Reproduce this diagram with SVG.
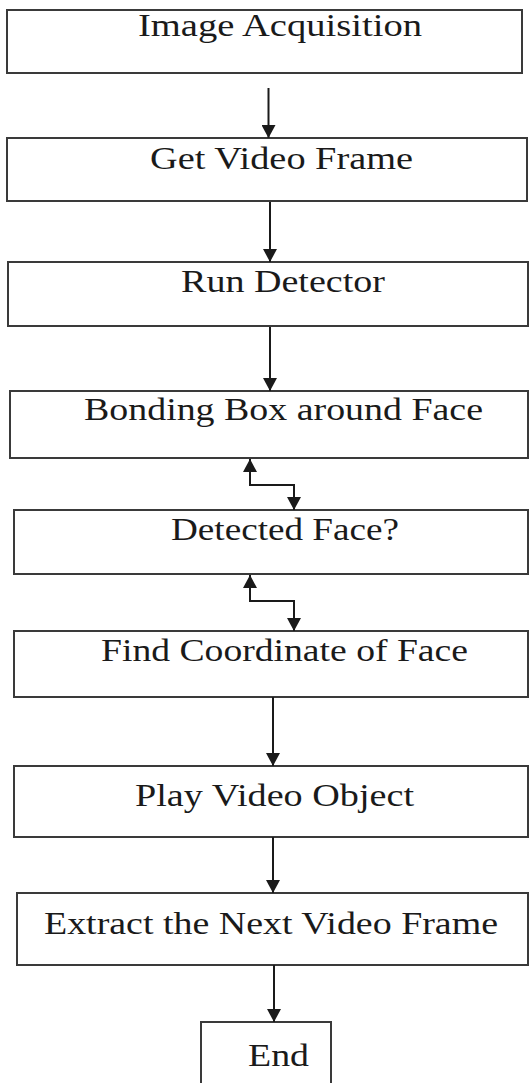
<svg xmlns="http://www.w3.org/2000/svg" width="530" height="1083" viewBox="0 0 530 1083">
  <style>
    .box { fill: #ffffff; stroke: #3a3a3a; stroke-width: 2; }
    .lbl { font-family: "Liberation Serif", "Times New Roman", serif; font-size: 31px; fill: #1a1a1a; }
    .wire { fill: none; stroke: #1a1a1a; stroke-width: 2; }
  </style>
  <defs>
    <marker id="arrow" viewBox="0 0 13 14" refX="13" refY="7" markerWidth="13" markerHeight="14" markerUnits="userSpaceOnUse" orient="auto-start-reverse">
      <path d="M0,0 L13,7 L0,14 Z" fill="#1a1a1a"/>
    </marker>
  </defs>
  <rect width="530" height="1083" fill="#ffffff"/>

  <g id="node-acquisition">
    <rect class="box" x="7" y="10" width="515" height="63"/>
    <text class="lbl" x="138" y="36" textLength="284" lengthAdjust="spacingAndGlyphs">Image Acquisition</text>
  </g>
  <g id="node-get-frame">
    <rect class="box" x="7" y="138" width="520" height="63"/>
    <text class="lbl" x="150" y="169" textLength="263" lengthAdjust="spacingAndGlyphs">Get Video Frame</text>
  </g>
  <g id="node-run-detector">
    <rect class="box" x="8" y="262" width="520" height="64"/>
    <text class="lbl" x="181" y="292" textLength="204" lengthAdjust="spacingAndGlyphs">Run Detector</text>
  </g>
  <g id="node-bounding-box">
    <rect class="box" x="10" y="391" width="518" height="67"/>
    <text class="lbl" x="84" y="420" textLength="399" lengthAdjust="spacingAndGlyphs">Bonding Box around Face</text>
  </g>
  <g id="node-detected">
    <rect class="box" x="14" y="510" width="514" height="64"/>
    <text class="lbl" x="171" y="540" textLength="228" lengthAdjust="spacingAndGlyphs">Detected Face?</text>
  </g>
  <g id="node-coordinate">
    <rect class="box" x="14" y="631" width="514" height="66"/>
    <text class="lbl" x="101" y="661" textLength="367" lengthAdjust="spacingAndGlyphs">Find Coordinate of Face</text>
  </g>
  <g id="node-play">
    <rect class="box" x="14" y="766" width="514" height="71"/>
    <text class="lbl" x="135" y="806" textLength="279" lengthAdjust="spacingAndGlyphs">Play Video Object</text>
  </g>
  <g id="node-extract">
    <rect class="box" x="17" y="893" width="511" height="72"/>
    <text class="lbl" x="44" y="934" textLength="454" lengthAdjust="spacingAndGlyphs">Extract the Next Video Frame</text>
  </g>
  <g id="node-end">
    <rect class="box" x="201" y="1022" width="130" height="70"/>
    <text class="lbl" x="248" y="1066" textLength="61" lengthAdjust="spacingAndGlyphs">End</text>
  </g>

  <g id="connectors">
    <path class="wire" d="M268.5,88 L268.5,138" marker-end="url(#arrow)"/>
    <path class="wire" d="M270,202 L270,262" marker-end="url(#arrow)"/>
    <path class="wire" d="M270,327 L270,391" marker-end="url(#arrow)"/>
    <path class="wire" d="M250,459 L250,485 L294,485 L294,510" marker-start="url(#arrow)" marker-end="url(#arrow)"/>
    <path class="wire" d="M250,575 L250,601 L294,601 L294,631" marker-start="url(#arrow)" marker-end="url(#arrow)"/>
    <path class="wire" d="M273,697 L273,766" marker-end="url(#arrow)"/>
    <path class="wire" d="M273,837 L273,893" marker-end="url(#arrow)"/>
    <path class="wire" d="M274,965 L274,1022" marker-end="url(#arrow)"/>
  </g>
</svg>
